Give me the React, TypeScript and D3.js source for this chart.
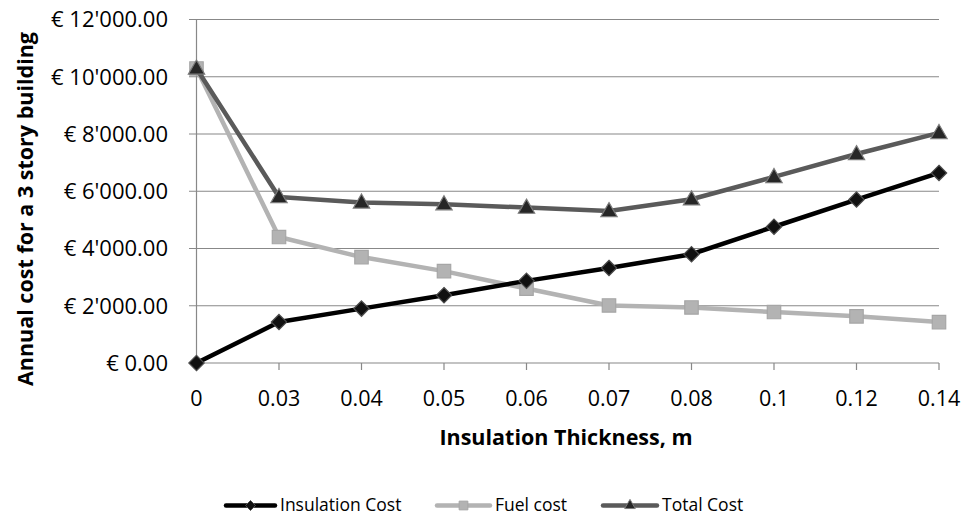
import * as d3 from 'd3'
import React from 'react'

const thickness = ['0', '0.03', '0.04', '0.05', '0.06', '0.07', '0.08', '0.1', '0.12', '0.14']
const insulationCost = [0, 1430, 1900, 2370, 2870, 3320, 3800, 4760, 5710, 6640]
const fuelCost = [10290, 4400, 3700, 3210, 2600, 2010, 1940, 1780, 1630, 1430]
const totalCost = [10290, 5800, 5610, 5550, 5430, 5310, 5720, 6500, 7300, 8040]
const yTicks = [0, 2000, 4000, 6000, 8000, 10000, 12000]

const W = 961
const H = 517
const font = '"Open Sans", "Noto Sans", sans-serif'

type Series = { name: string, values: number[], line: string, fill: string, stroke: string, marker: string }

const series: Series[] = [
  { name: 'Insulation Cost', values: insulationCost, line: '#000000', fill: '#111111', stroke: '#4d4d4d', marker: 'diamond' },
  { name: 'Fuel cost', values: fuelCost, line: '#b3b3b3', fill: '#b3b3b3', stroke: '#a6a6a6', marker: 'square' },
  { name: 'Total Cost', values: totalCost, line: '#5a5a5a', fill: '#262626', stroke: '#7a7a7a', marker: 'triangle' },
]

// draws last series on top like the reference
const drawOrder = [1, 0, 2]

function markerPath(kind: string, scale: number) {
  const shape = kind === 'diamond' ? d3.symbolDiamond2 : kind === 'square' ? d3.symbolSquare2 : d3.symbolTriangle2
  const size = kind === 'diamond' ? 150 : kind === 'square' ? 230 : 190
  return d3.symbol(shape, size * scale * scale)()!
}

export default function App() {
  const x = d3.scalePoint<string>().domain(thickness).range([196.5, 939])
  const y = d3.scaleLinear().domain([0, 12000]).range([363, 19.5])
  const fmt = (v: number) => `€ ${d3.format(',.2f')(v).replace(/,/g, "'")}`

  const line = d3.line<number>()
    .x((_, i) => x(thickness[i])!)
    .y((d) => y(d))

  const legendY = 505.5
  const legendItems = [
    { s: series[0], x0: 226, tx: 280 },
    { s: series[1], x0: 437, tx: 495 },
    { s: series[2], x0: 603, tx: 662 },
  ]

  return (
    <div style={{ position: 'absolute', left: 0, top: 0 }}>
      <svg width={W} height={H} style={{ display: 'block', background: '#fff' }}>
        {yTicks.map((t) => (
          <g key={t}>
            <line x1={189} x2={939} y1={y(t)} y2={y(t)} stroke="#888" strokeWidth={1.2} />
            <text x={168} y={y(t)} dy="0.36em" textAnchor="end" fontFamily={font} fontSize={22} fill="#000">
              {fmt(t)}
            </text>
          </g>
        ))}
        <line x1={196.5} x2={196.5} y1={y(12000)} y2={y(0)} stroke="#888" strokeWidth={1.2} />
        {thickness.map((c) => (
          <g key={c}>
            <line x1={x(c)} x2={x(c)} y1={y(0)} y2={y(0) + 7} stroke="#888" strokeWidth={1.2} />
            <text x={x(c)} y={406} textAnchor="middle" fontFamily={font} fontSize={21.5} fill="#000">{c}</text>
          </g>
        ))}

        {drawOrder.map((k) => {
          const s = series[k]
          return (
            <g key={s.name}>
              <path d={line(s.values)!} fill="none" stroke={s.line} strokeWidth={4.5} strokeLinejoin="round" />
              {s.values.map((v, i) => (
                <path key={i} d={markerPath(s.marker, 1)}
                  transform={`translate(${x(thickness[i])},${y(v) + (s.marker === 'triangle' ? 1 : 0)})`}
                  fill={s.fill} stroke={s.stroke} strokeWidth={1.2} />
              ))}
            </g>
          )
        })}

        <text transform={`translate(33,209) rotate(-90)`} textAnchor="middle" fontFamily={font}
          fontWeight="bold" fontSize={21.5} fill="#000">Annual cost for a 3 story building</text>
        <text x={566} y={445} textAnchor="middle" fontFamily={font} fontWeight="bold" fontSize={21.5} fill="#000">
          Insulation Thickness, m
        </text>

        {legendItems.map(({ s, x0, tx }) => (
          <g key={s.name}>
            <line x1={x0} x2={tx - 5} y1={legendY} y2={legendY} stroke={s.line} strokeWidth={4.5} strokeLinecap="round" />
            <path d={markerPath(s.marker, 0.65)} transform={`translate(${(x0 + tx - 5) / 2},${legendY})`}
              fill={s.fill} stroke={s.stroke} strokeWidth={1} />
            <text x={tx} y={legendY} dy="0.34em" fontFamily={font} fontSize={17.5} fill="#000">{s.name}</text>
          </g>
        ))}
      </svg>
    </div>
  )
}
